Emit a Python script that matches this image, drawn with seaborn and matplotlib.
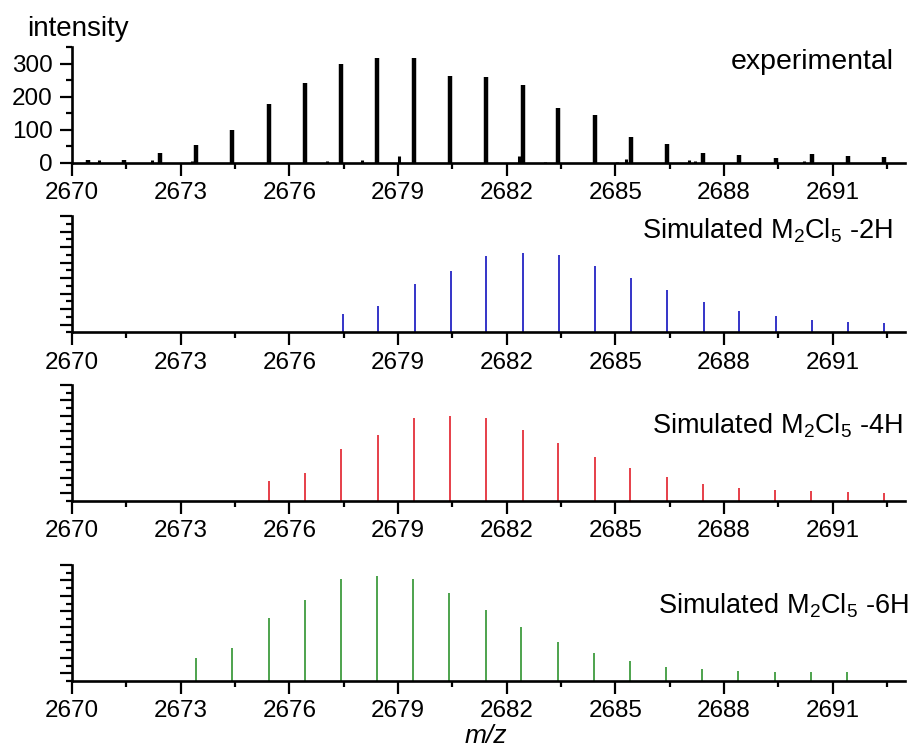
import numpy as np
import matplotlib
matplotlib.use("Agg")
import matplotlib.pyplot as plt
import seaborn as sns

# ---------------- data ----------------
# experimental: main isotopic peaks (m/z, intensity)
exp_mz = [2670.43, 2671.43, 2672.43, 2673.43, 2674.43, 2675.43, 2676.43, 2677.43,
          2678.43, 2679.43, 2680.43, 2681.43, 2682.44, 2683.43, 2684.44, 2685.43,
          2686.43, 2687.43, 2688.43, 2689.43, 2690.43, 2691.43, 2692.43]
exp_int = [9, 7, 30, 55, 100, 178, 241, 300, 318, 318, 262, 261, 235, 165, 144, 79,
           56, 30, 22, 15, 25, 19, 18]
# experimental: minor / shoulder peaks
exp_minor_mz = [2670.75, 2672.2, 2673.3, 2677.03, 2678.02, 2679.02, 2682.33,
                2683.05, 2685.04, 2685.3, 2687.03, 2687.2, 2690.2]
exp_minor_int = [8, 7, 4, 4, 8, 20, 20, 3, 3, 10, 8, 5, 6]

# simulated patterns (relative intensity, max = 100)
sim2_mz = [2677.47, 2678.46, 2679.46, 2680.46, 2681.44, 2682.46, 2683.45, 2684.45,
           2685.44, 2686.44, 2687.44, 2688.43, 2689.44, 2690.44, 2691.43, 2692.43]
sim2_int = [22.8, 33.8, 61.1, 77.6, 97.1, 100, 97.8, 84.4, 68.7, 53.5, 38.9, 27.5,
            21.1, 16.1, 13.5, 12.3]

sim4_mz = [2675.44, 2676.43, 2677.42, 2678.44, 2679.45, 2680.44, 2681.44, 2682.44,
           2683.42, 2684.43, 2685.42, 2686.43, 2687.42, 2688.42, 2689.42, 2690.41,
           2691.42, 2692.41]
sim4_int = [23.3, 32.7, 61.0, 77.1, 97.2, 100, 97.6, 83.5, 68.5, 51.6, 38.1, 27.5,
            19.7, 15.3, 12.2, 11.0, 9.8, 9.1]

sim6_mz = [2673.43, 2674.43, 2675.43, 2676.42, 2677.42, 2678.43, 2679.42, 2680.42,
           2681.43, 2682.40, 2683.42, 2684.41, 2685.41, 2686.41, 2687.40, 2688.40,
           2689.40, 2690.40, 2691.40]
sim6_int = [21.6, 31.7, 60.0, 76.9, 97.4, 100, 97.4, 84.1, 67.9, 51.1, 36.9, 26.7,
            19.0, 13.6, 11.1, 9.8, 8.6, 8.6, 8.6]

x_ticks = [2670, 2673, 2676, 2679, 2682, 2685, 2688, 2691]
labels = ["experimental", r"Simulated M$_2$Cl$_5$ -2H",
          r"Simulated M$_2$Cl$_5$ -4H", r"Simulated M$_2$Cl$_5$ -6H"]

# ---------------- style ----------------
sns.set_style("ticks")
plt.rcParams["font.family"] = ["Liberation Sans", "DejaVu Sans"]
plt.rcParams["mathtext.fontset"] = "custom"
plt.rcParams["mathtext.rm"] = "Liberation Sans"
plt.rcParams["mathtext.it"] = "Liberation Sans:italic"
for k in ("text.color", "axes.labelcolor", "xtick.color", "ytick.color",
          "xtick.labelcolor", "ytick.labelcolor"):
    plt.rcParams[k] = "black"

fig = plt.figure(figsize=(9.14, 7.49), dpi=100)
fig.patch.set_facecolor("white")

W, H = 914.0, 749.0
left, right = 72 / W, 905 / W
panels_px = [(47.3, 162.7), (216.0, 332.3), (385.0, 500.7), (565.0, 681.0)]
axes = []
for top_px, bot_px in panels_px:
    ax = fig.add_axes([left, 1 - bot_px / H, right - left, (bot_px - top_px) / H])
    ax.set_facecolor("white")
    axes.append(ax)

def style_axis(ax):
    sns.despine(ax=ax)
    for s in ("left", "bottom"):
        ax.spines[s].set_linewidth(1.9)
        ax.spines[s].set_color("black")
    ax.set_xlim(2670, 2693)
    ax.set_xticks(x_ticks)
    ax.set_xticks(np.arange(2671.5, 2693, 3), minor=True)
    ax.tick_params(axis="both", which="major", direction="out", length=9, width=1.6,
                   labelsize=17.5, pad=5, color="black", labelcolor="black")
    ax.tick_params(axis="both", which="minor", direction="out", length=4.5, width=1.6,
                   color="black")
    ax.grid(False)

# experimental panel
ax = axes[0]
ax.vlines(exp_mz, 0, exp_int, color="black", lw=3.2)
ax.vlines(exp_minor_mz, 0, exp_minor_int, color="black", lw=2.2)
ax.set_ylim(0, 350)
ax.set_yticks([0, 100, 200, 300])
ax.set_yticks([50, 150, 250, 350], minor=True)
style_axis(ax)

sims = [(sim2_mz, sim2_int, "#2424c4", 147.2),
        (sim4_mz, sim4_int, "#e4303a", 136.6),
        (sim6_mz, sim6_int, "#3f9c3f", 110.5)]
for ax, (mz, inten, col, top) in zip(axes[1:], sims):
    ax.vlines(mz, 0, inten, color=col, lw=1.3)
    ax.set_ylim(0, top)
    t = np.linspace(0, top, 16)
    ax.set_yticks(t[1::2])
    ax.set_yticks(t[0::2], minor=True)
    style_axis(ax)
    ax.set_yticklabels([])

# texts
fig.text(27 / W, 1 - 36 / H, "intensity", fontsize=20, ha="left", va="baseline")
fig.text(894 / W, 1 - 69.3 / H, labels[0], fontsize=20.5, ha="right", va="baseline")
fig.text(893 / W, 1 - 238.3 / H, labels[1], fontsize=19.5, ha="right", va="baseline")
fig.text(903 / W, 1 - 433 / H, labels[2], fontsize=19.5, ha="right", va="baseline")
fig.text(909 / W, 1 - 613 / H, labels[3], fontsize=19.5, ha="right", va="baseline")
fig.text(486 / W, 1 - 736 / H, "m/z", fontsize=19, style="italic", ha="center",
         va="center")

fig.savefig("out.png", dpi=100, facecolor="white")
